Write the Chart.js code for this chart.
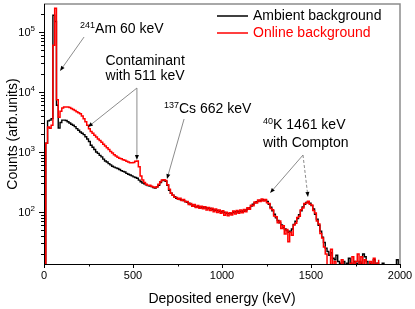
<!DOCTYPE html>
<html><head><meta charset="utf-8">
<script src="https://cdn.jsdelivr.net/npm/chart.js@4.4.0/dist/chart.umd.min.js"></script>
<style>html,body{margin:0;padding:0;background:#fff;}#wrap{width:415px;height:309px;}</style>
</head><body><div id="wrap"><canvas id="c" width="415" height="309"></canvas></div>
<script>
// ---- data ----
const binWidth = 10; // keV per bin, bins start at 0
const ambient = [
13, 1400, 3300, 3400, 3600, 190000, 150000, 6000, 2500, 3100,
3400, 3400, 3350, 3200, 3050, 2900, 2800, 2650, 2450, 2300,
2150, 2050, 1950, 1800, 1650, 1500, 1300, 1200, 1100, 1000,
950, 880, 830, 760, 710, 680, 640, 610, 580, 560,
545, 530, 510, 490, 475, 465, 440, 425, 415, 400,
385, 375, 365, 340, 320, 305, 295, 285, 275, 270,
265, 255, 250, 262, 280, 310, 335, 340, 325, 280,
230, 205, 190, 180, 170, 165, 162, 158, 155, 150,
145, 140, 133, 130, 125, 121, 123, 120, 118, 121,
118, 116, 114, 115, 111, 108, 107, 106, 103, 101,
100, 98, 96, 94, 93, 96, 99, 101, 100, 102,
101, 104, 103, 108, 112, 118, 126, 135, 142, 148,
153, 156, 158, 160, 158, 150, 135, 120, 105, 92,
80, 72, 66, 61, 55, 52, 49, 46, 48, 52,
62, 70, 78, 90, 105, 122, 135, 145, 148, 140,
128, 112, 92, 76, 60, 48, 38, 31, 25, 22,
19, 21, 17, 16, 19, 15, 14, 13, 15, 13,
14, 17, 14, 13, 15, 14, 13, 15, 14, 20,
18, 15, 13, 14, 13, 16, 13, 14, 13, 12,
14, 12, 13, 12, 12, 12, 12, 13, 16, 12
];
const online = [
13, 1400, 2600, 2500, 2800, 60000, 250000, 7400, 3800, 4800,
5400, 5600, 5650, 5600, 5500, 5300, 5100, 4900, 4700, 4500,
4350, 4000, 3600, 3200, 2800, 2450, 2200, 2050, 1900, 1780,
1650, 1550, 1450, 1350, 1260, 1180, 1100, 1020, 960, 900,
860, 820, 790, 770, 745, 730, 700, 680, 665, 660,
670, 700, 705, 570, 400, 340, 310, 290, 280, 278,
270, 262, 255, 262, 290, 320, 340, 345, 335, 285,
240, 205, 190, 176, 174, 163, 170, 156, 162, 148,
150, 134, 139, 125, 133, 119, 128, 115, 125, 113,
122, 108, 119, 106, 115, 101, 112, 98, 108, 95,
105, 88, 99, 87, 97, 89, 104, 93, 106, 95,
108, 97, 110, 101, 118, 111, 130, 127, 147, 141,
158, 149, 164, 153, 161, 143, 139, 114, 109, 86,
83, 66, 71, 53, 59, 43, 51, 32, 46, 41,
61, 65, 81, 85, 109, 117, 139, 141, 151, 135,
131, 106, 96, 71, 63, 44, 37, 26, 20, 10,
12, 24, 10, 15, 10, 10, 13, 16, 10, 10,
12, 10, 14, 18, 10, 15, 20, 10, 18, 10,
16, 12, 10, 15, 10, 17, 10, 14, 16, null,
null, null, null, null, null, null, null, null, null, null
];
const seriesLabels = ['Ambient background', 'Online background'];
const xMajorTicks = [0, 500, 1000, 1500, 2000];
const yDecadeExponents = [2, 3, 4, 5];
const xTitle = 'Deposited energy (keV)';
const yTitle = 'Counts (arb.units)';

// annotations (data coordinates: energy keV, counts)
const notes = [
  {sup: '241', lines: ['Am 60 keV'], x: 287, y: 96000, align: 'left'},
  {sup: '', lines: ['Contaminant', 'with 511 keV'], x: 568, y: 28200, align: 'center', dy: 15},
  {sup: '137', lines: ['Cs 662 keV'], x: 758, y: 4470, align: 'left'},
  {sup: '40', lines: ['K 1461 keV'], x: 1287, y: 2420, align: 'left'},
  {sup: '', lines: ['with Compton'], x: 1230, y: 1212, align: 'left'}
];
const arrows = [
  {from: [225, 82500], to: [90, 22400]},
  {from: [522, 11650], to: [247, 2610]},
  {from: [522, 11650], to: [522, 735]},
  {from: [787, 3550], to: [691, 355]},
  {from: [1455, 890], to: [1270, 207]},
  {from: [1455, 890], to: [1483, 178], dash: true}
];

const energies = ambient.map((_, i) => i * binWidth);
const toPts = arr => arr.map((v, i) => ({x: energies[i], y: v}));

const FONT = '"Liberation Sans", Arial, sans-serif';

const decor = {
  id: 'decor',
  afterDatasetsDraw(chart) {
    const {ctx, chartArea: a, scales: {x, y}} = chart;
    ctx.save();
    // frame
    ctx.lineWidth = 1.5;
    ctx.strokeStyle = '#8c8c8c';
    ctx.beginPath();
    ctx.moveTo(a.left, a.top); ctx.lineTo(a.right, a.top); ctx.lineTo(a.right, a.bottom);
    ctx.stroke();
    ctx.lineWidth = 1;
    ctx.strokeStyle = '#000';
    ctx.beginPath();
    ctx.moveTo(a.left + 0.5, a.top); ctx.lineTo(a.left + 0.5, a.bottom + 0.5); ctx.lineTo(a.right, a.bottom + 0.5);
    ctx.stroke();

    // x ticks
    ctx.beginPath();
    for (let i = 0; i < xMajorTicks.length; i++) {
      const px = Math.round(x.getPixelForValue(xMajorTicks[i])) + 0.5;
      ctx.moveTo(px, a.bottom); ctx.lineTo(px, a.bottom + 4);
      if (i < xMajorTicks.length - 1) {
        const mid = (xMajorTicks[i] + xMajorTicks[i + 1]) / 2;
        const pm = Math.round(x.getPixelForValue(mid)) + 0.5;
        ctx.moveTo(pm, a.bottom); ctx.lineTo(pm, a.bottom + 2.5);
      }
    }
    // y ticks
    for (let e = 1; e <= 5; e++) {
      for (let m = 1; m <= 9; m++) {
        const v = m * Math.pow(10, e);
        if (v < y.min || v > y.max) continue;
        const py = Math.round(y.getPixelForValue(v)) + 0.5;
        ctx.moveTo(a.left, py); ctx.lineTo(a.left - (m === 1 ? 5 : 3), py);
      }
    }
    ctx.stroke();

    // x labels
    ctx.fillStyle = '#000';
    ctx.font = '11px ' + FONT;
    ctx.textAlign = 'center';
    ctx.textBaseline = 'middle';
    xMajorTicks.forEach(t => ctx.fillText(String(t), x.getPixelForValue(t), a.bottom + 12));
    // y labels
    yDecadeExponents.forEach(e => {
      const py = y.getPixelForValue(Math.pow(10, e));
      ctx.font = '8px ' + FONT;
      const sw = ctx.measureText(String(e)).width;
      ctx.textAlign = 'left';
      ctx.textBaseline = 'alphabetic';
      const right = a.left - 9;
      ctx.fillText(String(e), right - sw, py - 1);
      ctx.font = '11px ' + FONT;
      ctx.textAlign = 'right';
      ctx.fillText('10', right - sw, py + 4);
    });
    // titles
    ctx.font = '14px ' + FONT;
    ctx.textAlign = 'center';
    ctx.textBaseline = 'alphabetic';
    ctx.fillText(xTitle, (a.left + a.right) / 2, 303);
    ctx.save();
    ctx.translate(17, (a.top + a.bottom) / 2);
    ctx.rotate(-Math.PI / 2);
    ctx.fillText(yTitle, 0, 0);
    ctx.restore();

    // arrows
    arrows.forEach(ar => {
      const x1 = x.getPixelForValue(ar.from[0]), y1 = y.getPixelForValue(ar.from[1]);
      const x2 = x.getPixelForValue(ar.to[0]), y2 = y.getPixelForValue(ar.to[1]);
      const ang = Math.atan2(y2 - y1, x2 - x1);
      const hl = 5, hw = 2;
      ctx.strokeStyle = '#6e6e6e';
      ctx.lineWidth = 0.8;
      ctx.setLineDash(ar.dash ? [3, 2] : []);
      ctx.beginPath();
      ctx.moveTo(x1, y1);
      ctx.lineTo(x2 - hl * Math.cos(ang), y2 - hl * Math.sin(ang));
      ctx.stroke();
      ctx.setLineDash([]);
      ctx.fillStyle = '#000';
      ctx.beginPath();
      ctx.moveTo(x2, y2);
      ctx.lineTo(x2 - hl * Math.cos(ang) + hw * Math.sin(ang), y2 - hl * Math.sin(ang) - hw * Math.cos(ang));
      ctx.lineTo(x2 - hl * Math.cos(ang) - hw * Math.sin(ang), y2 - hl * Math.sin(ang) + hw * Math.cos(ang));
      ctx.closePath();
      ctx.fill();
    });

    // annotation text
    ctx.fillStyle = '#000';
    ctx.textBaseline = 'alphabetic';
    notes.forEach(n => {
      const px = x.getPixelForValue(n.x), py = y.getPixelForValue(n.y);
      n.lines.forEach((ln, i) => {
        ctx.font = '14px ' + FONT;
        ctx.textAlign = n.align;
        const yy = py + i * (n.dy || 0);
        ctx.fillText(ln, px, yy);
        if (i === 0 && n.sup) {
          ctx.font = '9px ' + FONT;
          ctx.textAlign = 'right';
          ctx.fillText(n.sup, px, yy - 5);
        }
      });
    });

    // legend
    const colors = chart.data.datasets.map(d => d.borderColor);
    seriesLabels.forEach((lab, i) => {
      const ly = a.top + 12 + i * 17;
      ctx.strokeStyle = colors[i];
      ctx.lineWidth = 1.5;
      ctx.beginPath();
      ctx.moveTo(a.right - 183, ly); ctx.lineTo(a.right - 152, ly);
      ctx.stroke();
      ctx.fillStyle = colors[i];
      ctx.font = '14px ' + FONT;
      ctx.textAlign = 'left';
      ctx.textBaseline = 'middle';
      ctx.fillText(lab, a.right - 147, ly);
    });
    ctx.restore();
  }
};

new Chart(document.getElementById('c'), {
  type: 'line',
  data: {
    datasets: [
      {label: seriesLabels[0], data: toPts(ambient), borderColor: '#000000', borderWidth: 1.4,
       pointRadius: 0, stepped: true, order: 1, clip: 1, spanGaps: false},
      {label: seriesLabels[1], data: toPts(online), borderColor: '#ff0000', borderWidth: 1.5,
       pointRadius: 0, stepped: true, order: 0, clip: 1, spanGaps: false}
    ]
  },
  options: {
    responsive: false,
    animation: false,
    layout: {padding: {left: 44, top: 4, right: 15, bottom: 45}},
    plugins: {legend: {display: false}, tooltip: {enabled: false}},
    scales: {
      x: {type: 'linear', min: 0, max: 2000, display: false},
      y: {type: 'logarithmic', min: 13.6, max: 293000, display: false}
    }
  },
  plugins: [decor]
});
</script>
</body></html>
